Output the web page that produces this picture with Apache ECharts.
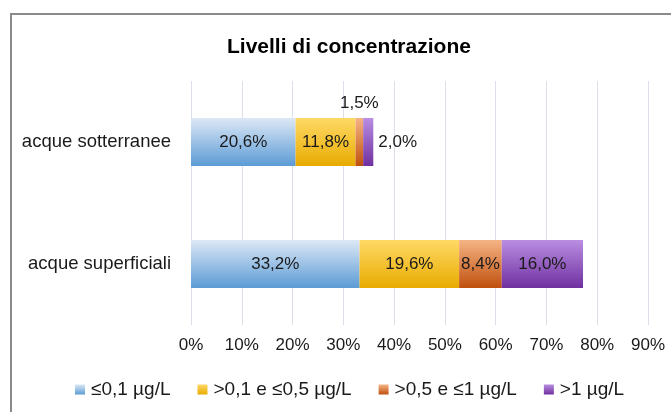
<!DOCTYPE html>
<html>
<head>
<meta charset="utf-8">
<script src="https://cdn.jsdelivr.net/npm/echarts@6/dist/echarts.min.js"></script>
<style>
  html, body { margin: 0; padding: 0; background: #fff; }
  #chart { width: 671px; height: 412px; }
</style>
</head>
<body>
<div id="chart"></div>
<script>
// Categories (top to bottom) and percentages per concentration class
const categories = ['acque sotterranee', 'acque superficiali'];
const seriesNames = ['≤0,1 µg/L', '>0,1 e ≤0,5 µg/L', '>0,5 e ≤1 µg/L', '>1 µg/L'];
const lowValues = [20.6, 33.2];
const midValues = [11.8, 19.6];
const highValues = [1.5, 8.4];
const topValues = [2.0, 16.0];
const tickLabels = ['0%', '10%', '20%', '30%', '40%', '50%', '60%', '70%', '80%', '90%'];

const FONT = 'Arial, "Liberation Sans", sans-serif';

function grad(light, dark) {
  return new echarts.graphic.LinearGradient(0, 0, 0, 1, [
    { offset: 0, color: light },
    { offset: 1, color: dark }
  ]);
}

const fills = [
  grad('#dde8f6', '#5b9bd5'),
  grad('#ffd966', '#e8ab00'),
  grad('#f5b485', '#c0500e'),
  grad('#b98ee2', '#7030a0')
];

const valueSets = [lowValues, midValues, highValues, topValues];

// Small segments get their labels outside the bar
function labelFor(v) {
  if (v < 1.8) return { position: 'top', distance: 6 };
  if (v < 3) return { position: 'right', distance: 5 };
  return { position: 'inside' };
}

const fmt = v => v.toFixed(1).replace('.', ',') + '%';

const series = valueSets.map((vals, i) => ({
  name: seriesNames[i],
  type: 'bar',
  stack: 'tot',
  barWidth: 48,
  itemStyle: { color: fills[i] },
  label: {
    show: true,
    fontFamily: FONT,
    fontSize: 17,
    color: '#1a1a1a',
    formatter: p => fmt(p.value)
  },
  data: vals.map(v => ({ value: v, label: labelFor(v) }))
}));

const chart = echarts.init(document.getElementById('chart'), null, { renderer: 'canvas' });
chart.setOption({
  animation: false,
  backgroundColor: '#ffffff',
  title: {
    text: 'Livelli di concentrazione',
    left: 222,
    top: 32,
    textStyle: { fontFamily: FONT, fontSize: 21, fontWeight: 'bold', color: '#000' }
  },
  legend: {
    top: 375,
    left: 70,
    itemWidth: 10,
    itemHeight: 10,
    itemGap: 27,
    icon: 'rect',
    textStyle: { fontFamily: FONT, fontSize: 19, color: '#1a1a1a', padding: [0, 0, 0, 1] },
    data: seriesNames
  },
  grid: { left: 191, right: 23, top: 81, bottom: 87 },
  xAxis: {
    type: 'value',
    min: 0,
    max: 90,
    interval: 10,
    axisLine: { show: false },
    axisTick: { show: false },
    splitLine: { lineStyle: { color: '#dcdfe9', width: 1 } },
    axisLabel: {
      margin: 12,
      fontFamily: FONT,
      fontSize: 17,
      color: '#1a1a1a',
      formatter: (v) => tickLabels[Math.round(v / 10)]
    }
  },
  yAxis: {
    type: 'category',
    inverse: true,
    data: categories,
    axisLine: { show: false },
    axisTick: { show: false },
    axisLabel: { margin: 20, fontFamily: FONT, fontSize: 18.5, color: '#1a1a1a' }
  },
  series: series,
  graphic: [{
    type: 'polyline',
    shape: { points: [[11, 412], [11, 14], [671, 14]] },
    style: { stroke: '#8a8a8a', lineWidth: 2, fill: null }
  }]
});
</script>
</body>
</html>
